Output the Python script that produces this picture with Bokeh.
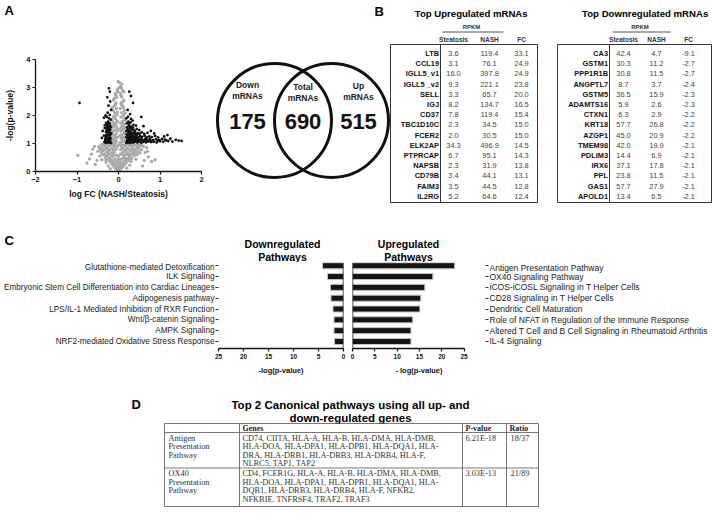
from bokeh.plotting import figure
from bokeh.layouts import column, row
from bokeh.models import Range1d, FixedTicker, Span
from bokeh.core.properties import value
from bokeh.embed import file_html
from bokeh.resources import INLINE

SANS = "Liberation Sans"
SERIF = "Liberation Serif"

# ---------------- data ----------------
# Panel A volcano: (logFC, -log p)
gray_pts = [(0.00, 0.02), (-0.03, 0.05), (0.03, 0.06), (-0.06, 0.10), (0.06, 0.11), (0.00, 0.12), (-0.10, 0.15), (0.10, 0.16),
            (-0.04, 0.18), (0.04, 0.20), (-0.14, 0.22), (0.14, 0.23), (0.00, 0.25), (-0.08, 0.27), (0.08, 0.28), (-0.18, 0.30),
            (0.18, 0.31), (-0.02, 0.33), (0.12, 0.35), (-0.12, 0.36), (-0.22, 0.38), (0.22, 0.38), (0.04, 0.40), (-0.25, 0.20),
            (0.27, 0.22), (0.30, 0.35), (-0.30, 0.33), (0.20, 0.12), (-0.20, 0.10),
            (-0.45, 0.55), (-0.38, 0.60), (-0.32, 0.50), (-0.26, 0.56), (-0.20, 0.48), (-0.14, 0.52), (-0.08, 0.45), (0.08, 0.46),
            (0.14, 0.50), (0.20, 0.47), (0.26, 0.53), (0.32, 0.49), (0.38, 0.57), (0.45, 0.60), (0.52, 0.66),
            (-0.50, 0.72), (-0.42, 0.70), (-0.35, 0.74), (-0.28, 0.68), (-0.22, 0.72), (-0.16, 0.66), (-0.10, 0.70), (0.10, 0.68),
            (0.16, 0.72), (0.22, 0.66), (0.28, 0.73), (0.34, 0.69), (0.40, 0.75), (0.47, 0.71), (0.55, 0.78),
            (-0.48, 0.88), (-0.40, 0.85), (-0.33, 0.90), (-0.27, 0.86), (-0.21, 0.92), (-0.15, 0.84), (-0.09, 0.88), (0.09, 0.86),
            (0.15, 0.90), (0.21, 0.85), (0.27, 0.92), (0.33, 0.87), (0.39, 0.93), (0.46, 0.89), (0.53, 0.94), (0.60, 0.90),
            (-0.36, 0.97), (-0.24, 0.98), (0.24, 0.97), (0.36, 0.98), (0.48, 0.97), (-0.40, 0.42), (0.42, 0.44), (-0.34, 0.62),
            (0.36, 0.63), (-0.05, 0.58), (0.05, 0.62), (-0.05, 0.80), (0.05, 0.78), (0.00, 0.45), (0.00, 0.55),
            (-0.98, 0.58), (-0.70, 0.45), (-0.62, 0.80), (0.72, 0.52), (0.80, 0.36), (0.68, 0.85), (-0.56, 0.25), (0.58, 0.20),
            (-0.65, 0.62), (0.64, 0.68), (-0.76, 0.30), (0.88, 0.42), (-0.52, 0.40), (0.62, 0.40), (0.70, 0.72), (-0.58, 0.90),
            (-0.02, 0.08), (0.02, 0.14), (-0.07, 0.20), (0.07, 0.24), (-0.12, 0.28), (0.11, 0.30), (-0.16, 0.40), (0.16, 0.42),
            (-0.04, 0.36), (0.04, 0.32), (-0.24, 0.45), (0.24, 0.44), (-0.30, 0.42), (0.30, 0.43), (-0.12, 0.60), (0.12, 0.58),
            (-0.18, 0.58), (0.18, 0.60), (-0.24, 0.63), (0.24, 0.61), (-0.30, 0.58), (0.30, 0.60), (-0.40, 0.64), (0.42, 0.66),
            (-0.12, 0.78), (0.12, 0.80), (-0.19, 0.80), (0.19, 0.78), (-0.25, 0.77), (0.25, 0.80), (-0.31, 0.80), (0.31, 0.78),
            (-0.38, 0.78), (0.37, 0.81), (-0.45, 0.80), (0.44, 0.82), (0.50, 0.84), (-0.12, 0.95), (0.12, 0.95), (-0.18, 0.97),
            (0.18, 0.96), (-0.30, 0.95), (0.30, 0.96), (-0.42, 0.95), (0.42, 0.94), (0.55, 0.97), (-0.02, 0.90), (0.02, 0.96),
            (-0.07, 0.98), (0.07, 0.93),
            (-0.15, 1.02), (-0.10, 1.05), (-0.05, 1.08), (-0.13, 1.15), (-0.07, 1.18), (-0.16, 1.25), (-0.03, 1.22), (-0.11, 1.30),
            (-0.06, 1.35), (-0.14, 1.42), (-0.09, 1.48), (-0.03, 1.45), (-0.16, 1.55), (-0.12, 1.60), (-0.05, 1.62), (-0.09, 1.70),
            (-0.14, 1.78), (-0.03, 1.80), (-0.07, 1.88), (-0.12, 1.95), (-0.04, 2.02), (-0.09, 2.10), (-0.13, 2.18), (-0.05, 2.25),
            (-0.10, 2.35), (-0.06, 2.45), (-0.12, 2.55), (-0.04, 2.65), (-0.08, 2.78), (-0.03, 2.92),
            (-0.12, 1.10), (-0.08, 1.26), (-0.15, 1.34), (-0.04, 1.52), (-0.13, 1.66), (-0.06, 1.74), (-0.16, 1.86), (-0.10, 1.98),
            (-0.03, 2.12), (-0.15, 2.28), (-0.07, 2.40), (-0.10, 2.62), (-0.06, 2.72), (-0.02, 2.85), (0.00, 2.98),
            (0.04, 1.03), (0.09, 1.06), (0.15, 1.09), (0.06, 1.16), (0.12, 1.20), (0.17, 1.27), (0.03, 1.28), (0.09, 1.33),
            (0.14, 1.40), (0.05, 1.44), (0.11, 1.50), (0.16, 1.57), (0.07, 1.60), (0.13, 1.68), (0.04, 1.74), (0.10, 1.80),
            (0.15, 1.88), (0.06, 1.94), (0.12, 2.00), (0.08, 2.10), (0.14, 2.18), (0.04, 2.25), (0.10, 2.34), (0.06, 2.45),
            (0.13, 2.55), (0.08, 2.66), (0.04, 2.80), (0.10, 2.90), (0.05, 3.05), (0.02, 3.18), (0.08, 3.12), (-0.01, 3.22),
            (0.13, 1.12), (0.07, 1.24), (0.16, 1.36), (0.03, 1.52), (0.12, 1.62), (0.08, 1.72), (0.17, 1.82), (0.09, 1.96),
            (0.16, 2.08), (0.12, 2.28), (0.07, 2.38), (0.11, 2.50), (0.06, 2.72), (0.13, 2.84), (0.07, 2.98)]
sig_pts = [(-0.18, 1.02), (-0.22, 1.03), (-0.26, 1.04), (-0.30, 1.02), (-0.34, 1.05), (-0.20, 1.10), (-0.24, 1.12), (-0.28, 1.10),
           (-0.32, 1.14), (-0.19, 1.18), (-0.23, 1.20), (-0.27, 1.22), (-0.31, 1.19), (-0.21, 1.28), (-0.25, 1.30), (-0.29, 1.32),
           (-0.35, 1.28), (-0.18, 1.36), (-0.22, 1.40), (-0.26, 1.38), (-0.30, 1.42), (-0.20, 1.48), (-0.24, 1.52), (-0.28, 1.50),
           (-0.33, 1.55), (-0.19, 1.58), (-0.23, 1.62), (-0.27, 1.66), (-0.21, 1.72), (-0.25, 1.78), (-0.30, 1.74), (-0.19, 1.85),
           (-0.23, 1.90), (-0.28, 1.95), (-0.35, 1.92), (-0.21, 2.02), (-0.26, 2.10), (-0.31, 2.00), (-0.18, 2.20), (-0.24, 2.35),
           (-0.20, 2.50), (-0.27, 2.65), (-0.21, 2.85), (-0.23, 2.97), (-0.94, 2.45), (-0.38, 1.45), (-0.40, 1.20),
           (-0.20, 1.05), (-0.24, 1.07), (-0.28, 1.06), (-0.32, 1.08), (-0.22, 1.15), (-0.26, 1.17), (-0.30, 1.25), (-0.20, 1.33),
           (-0.24, 1.45), (-0.28, 1.58), (-0.22, 1.55), (-0.26, 1.70), (-0.20, 1.65), (-0.33, 1.65),
           (0.19, 1.02), (0.23, 1.04), (0.27, 1.02), (0.31, 1.05), (0.35, 1.03), (0.40, 1.06), (0.45, 1.04), (0.50, 1.07),
           (0.55, 1.03), (0.60, 1.06), (0.66, 1.04), (0.72, 1.07), (0.78, 1.05), (0.85, 1.06), (0.92, 1.04), (1.00, 1.08),
           (1.08, 1.06), (1.20, 1.09), (1.30, 1.07), (1.45, 1.10), (1.52, 1.09),
           (0.21, 1.12), (0.25, 1.15), (0.29, 1.13), (0.33, 1.16), (0.38, 1.14), (0.43, 1.17), (0.48, 1.13), (0.53, 1.16),
           (0.58, 1.12), (0.64, 1.15), (0.70, 1.13), (0.76, 1.16), (0.83, 1.12), (0.90, 1.15), (0.98, 1.13), (1.05, 1.16),
           (1.12, 1.14), (1.25, 1.17), (1.38, 1.13),
           (0.19, 1.22), (0.24, 1.25), (0.28, 1.23), (0.32, 1.27), (0.37, 1.24), (0.42, 1.28), (0.47, 1.22), (0.52, 1.26),
           (0.57, 1.24), (0.63, 1.28), (0.68, 1.22), (0.74, 1.25), (0.80, 1.23), (0.88, 1.27), (0.95, 1.22), (1.10, 1.25),
           (1.18, 1.30), (0.20, 1.33), (0.25, 1.36), (0.30, 1.34), (0.35, 1.38), (0.40, 1.33), (0.46, 1.37), (0.51, 1.35),
           (0.56, 1.40), (0.62, 1.34), (0.70, 1.38), (0.78, 1.45), (0.86, 1.36), (0.19, 1.45), (0.23, 1.48), (0.28, 1.46),
           (0.33, 1.50), (0.38, 1.47), (0.44, 1.52), (0.50, 1.48), (0.60, 1.62), (0.21, 1.58), (0.26, 1.62), (0.31, 1.60),
           (0.36, 1.66), (0.42, 1.64), (0.20, 1.72), (0.24, 1.78), (0.29, 1.75), (0.34, 1.82), (0.19, 1.90), (0.23, 1.96),
           (0.28, 2.05), (0.55, 1.95), (0.35, 2.45), (0.30, 2.70), (0.26, 2.85), (0.22, 2.20),
           (0.21, 1.07), (0.25, 1.09), (0.29, 1.08), (0.33, 1.10), (0.37, 1.09), (0.42, 1.11), (0.47, 1.09), (0.52, 1.11),
           (0.62, 1.10), (0.68, 1.09), (0.75, 1.10), (0.82, 1.09), (0.95, 1.10), (1.15, 1.11), (0.22, 1.18), (0.27, 1.19),
           (0.31, 1.21), (0.36, 1.19), (0.41, 1.21), (0.46, 1.19), (0.55, 1.20), (0.66, 1.19), (0.22, 1.29), (0.27, 1.30),
           (0.35, 1.29), (0.45, 1.31), (0.24, 1.41), (0.30, 1.40), (0.40, 1.42), (0.22, 1.52), (0.28, 1.55), (0.35, 1.56),
           (0.25, 1.68), (0.30, 1.88)]
gray_x = [p[0] for p in gray_pts]
gray_y = [p[1] for p in gray_pts]
sig_x = [p[0] for p in sig_pts]
sig_y = [p[1] for p in sig_pts]
volc_xticks = [-2, -1, 0, 1, 2]
volc_yticks = [0, 1, 2, 3, 4]

# Venn counts
venn_names = [["Down", "mRNAs"], ["Total", "mRNAs"], ["Up", "mRNAs"]]
venn_counts = [175, 690, 515]

# Panel B tables
up_genes = ["LTB", "CCL19", "IGLL5_v1", "IGLL5 _v2", "SELL", "IGJ", "CD37", "TBC1D10C", "FCER2", "ELK2AP", "PTPRCAP", "NAPSB", "CD79B", "FAIM3", "IL2RG"]
up_steatosis = [3.6, 3.1, 16.0, 9.3, 3.3, 8.2, 7.8, 2.3, 2.0, 34.3, 6.7, 2.3, 3.4, 3.5, 5.2]
up_nash = [119.4, 76.1, 397.8, 221.1, 65.7, 134.7, 119.4, 34.5, 30.5, 496.9, 95.1, 31.9, 44.1, 44.5, 64.6]
up_fc = [33.1, 24.9, 24.9, 23.8, 20.0, 16.5, 15.4, 15.0, 15.0, 14.5, 14.3, 13.8, 13.1, 12.8, 12.4]
down_genes = ["CA3", "GSTM1", "PPP1R1B", "ANGPTL7", "GSTM5", "ADAMTS16", "CTXN1", "KRT18", "AZGP1", "TMEM98", "PDLIM3", "IRX6", "PPL", "GAS1", "APOLD1"]
down_steatosis = [42.4, 30.3, 30.8, 8.7, 36.5, 5.9, 6.3, 57.7, 45.0, 42.0, 14.4, 37.1, 23.8, 57.7, 13.4]
down_nash = [4.7, 11.2, 11.5, 3.7, 15.9, 2.6, 2.9, 26.8, 20.9, 19.9, 6.9, 17.8, 11.5, 27.9, 6.5]
down_fc = [-9.1, -2.7, -2.7, -2.4, -2.3, -2.3, -2.2, -2.2, -2.2, -2.1, -2.1, -2.1, -2.1, -2.1, -2.1]
table_headers = ["Steatosis", "NASH", "FC"]

# Panel C pathways
down_paths = ["Glutathione-mediated Detoxification", "ILK Signaling", "Embryonic Stem Cell Differentiation into Cardiac Lineages",
              "Adipogenesis pathway", "LPS/IL-1 Mediated Inhibition of RXR Function", "Wnt/\u03b2-catenin Signaling",
              "AMPK Signaling", "NRF2-mediated Oxidative Stress Response"]
down_vals = [4.2, 3.2, 2.6, 2.5, 2.1, 1.9, 1.9, 1.8]
up_paths = ["Antigen Presentation Pathway", "OX40 Signaling Pathway", "iCOS-iCOSL Signaling in T Helper Cells",
            "CD28 Signaling in T Helper Cells", "Dendritic Cell Maturation", "Role of NFAT in Regulation of the Immune Response",
            "Altered T Cell and B Cell Signaling in Rheumatoid Arthritis", "IL-4 Signaling"]
up_vals = [22.9, 18.0, 16.2, 15.3, 15.1, 13.5, 13.1, 13.1]
path_xticks = [0, 5, 10, 15, 20, 25]

# Panel D table
d_headers = ["Genes", "P-value", "Ratio"]
d_pathways = [["Antigen", "Presentation", "Pathway"], ["OX40", "Presentation", "Pathway"]]
d_genes = [["CD74, CIITA, HLA-A, HLA-B, HLA-DMA, HLA-DMB,", "HLA-DOA, HLA-DPA1, HLA-DPB1, HLA-DQA1, HLA-",
            "DRA, HLA-DRB1, HLA-DRB3, HLA-DRB4, HLA-F,", "NLRC5, TAP1, TAP2"],
           ["CD4, FCER1G, HLA-A, HLA-B, HLA-DMA, HLA-DMB,", "HLA-DOA, HLA-DPA1, HLA-DPB1, HLA-DQA1, HLA-",
            "DQB1, HLA-DRB3, HLA-DRB4, HLA-F, NFKB2,", "NFKBIE. TNFRSF4, TRAF2, TRAF3"]]
d_pvalues = ["6.21E-18", "3.03E-13"]
d_ratios = ["18/37", "21/89"]


# ---------------- helpers ----------------
def canvas(x0, y0, w, h):
    p = figure(width=w, height=h, x_range=Range1d(x0, x0 + w), y_range=Range1d(y0 + h, y0),
               x_axis_type=None, y_axis_type=None, output_backend="svg", toolbar_location=None,
               min_border=0)
    p.outline_line_color = None
    return p


def txt(p, xs, ys, texts, size, bold=False, align="center", color="#000000", font=SANS):
    p.text(x=xs, y=ys, text=texts, text_font=value(font), text_font_size=size,
           text_font_style="bold" if bold else "normal", text_align=align,
           text_baseline="middle", text_color=color)


def style_axis(ax, label_size="7px"):
    ax.axis_line_width = 1.3
    ax.axis_line_color = "#111111"
    ax.major_tick_line_color = "#111111"
    ax.major_tick_line_width = 1.2
    ax.major_tick_in = 0
    ax.major_tick_out = 3
    ax.minor_tick_line_color = None
    ax.major_label_text_font = SANS
    ax.major_label_text_font_style = "bold"
    ax.major_label_text_font_size = label_size
    ax.major_label_text_color = "#111111"
    ax.major_label_standoff = 2
    ax.axis_label_text_font = SANS
    ax.axis_label_text_font_style = "bold"
    ax.axis_label_text_color = "#111111"


# ---------------- Panel A ----------------
cA = canvas(0, 0, 210, 20)
txt(cA, [4], [10], ["A"], "13px", bold=True, align="left")

volc = figure(width=210, height=202, x_range=Range1d(-2, 2), y_range=Range1d(0, 4),
              output_backend="svg", toolbar_location=None,
              min_border_left=35, min_border_right=9, min_border_top=39, min_border_bottom=51)
volc.grid.visible = False
volc.outline_line_color = None
volc.scatter(gray_x, gray_y, size=3.3, color="#a9a9a9", line_color=None)
volc.scatter(sig_x, sig_y, size=2.8, color="#111111", line_color=None)
volc.xaxis.ticker = FixedTicker(ticks=volc_xticks)
volc.yaxis.ticker = FixedTicker(ticks=volc_yticks)
for ax in (volc.xaxis[0], volc.yaxis[0]):
    style_axis(ax, "7.5px")
    ax.axis_label_text_font_size = "8.5px"
volc.xaxis.axis_label = "log FC (NASH/Steatosis)"
volc.yaxis.axis_label = "-log(p-value)"
volc.xaxis.axis_label_standoff = 4
volc.yaxis.axis_label_standoff = 8

# ---------------- Panel B (Venn + tables) ----------------
cB = canvas(210, 0, 504, 222)
venn_cx = [274, 331]
cB.circle(x=venn_cx, y=[120, 120], radius=57, fill_color=None, line_color="#111111", line_width=3)
venn_tx = [247, 302.5, 358]
txt(cB, venn_tx, [84, 86, 85], [n[0] for n in venn_names], "8.5px", bold=True, color="#222222")
txt(cB, venn_tx, [95.5, 97, 96], [n[1] for n in venn_names], "8.5px", bold=True, color="#222222")
txt(cB, venn_tx, [121, 121, 121], [str(c) for c in venn_counts], "22px", bold=True, color="#111111")

txt(cB, [374], [11], ["B"], "13px", bold=True, align="left")


def gene_table(p, title, tcx, left, sep, right, cols, genes, s, n, fc):
    txt(p, [tcx], [12.5], [title], "9.6px", bold=True)
    rp = (cols[0] + cols[1]) / 2
    txt(p, [rp], [26.5], ["RPKM"], "6px", bold=True, color="#333333")
    p.segment(x0=[cols[0] - 11], y0=[31.5], x1=[cols[1] + 14], y1=[31.5], line_color="#555555", line_width=1)
    txt(p, cols, [38.5] * 3, table_headers, "6.5px", bold=True, color="#333333")
    top, bot = 44, 202
    p.segment(x0=[left, left, right, left, sep], y0=[top, bot, top, top, top],
              x1=[right, right, right, left, sep], y1=[top, bot, bot, bot, bot],
              line_color="#333333", line_width=1)
    ys = [53 + 10.2 * i for i in range(len(genes))]
    txt(p, [sep - 1.5] * len(genes), ys, genes, "7.4px", bold=True, align="right", color="#111111")
    txt(p, [cols[0]] * len(genes), ys, ["%.1f" % v for v in s], "7.4px", color="#444444")
    txt(p, [cols[1]] * len(genes), ys, ["%.1f" % v for v in n], "7.4px", color="#444444")
    txt(p, [cols[2]] * len(genes), ys, ["%.1f" % v for v in fc], "7.4px", color="#444444")


gene_table(cB, "Top  Upregulated mRNAs", 472, 390, 440, 537, [453, 489, 521],
           up_genes, up_steatosis, up_nash, up_fc)
gene_table(cB, "Top  Downregulated mRNAs", 646, 557, 609, 711, [623, 656, 688],
           down_genes, down_steatosis, down_nash, down_fc)

# ---------------- Panel C ----------------
cC = canvas(0, 222, 714, 40)
txt(cC, [4], [240], ["C"], "13px", bold=True, align="left")
txt(cC, [282, 282], [243, 256], ["Downregulated", "Pathways"], "10.5px", bold=True)
txt(cC, [408, 408], [243, 256], ["Upregulated", "Pathways"], "10.5px", bold=True)

n_paths = len(down_paths)
ypos = [n_paths - 1 - i for i in range(n_paths)]


def path_fig(width, xr, vals, names, lb, rb, side, xlabel, lab_size):
    p = figure(width=width, height=118, x_range=xr, y_range=Range1d(-0.65, 7.3),
               output_backend="svg", toolbar_location=None, y_axis_location=side,
               min_border_left=lb, min_border_right=rb, min_border_top=0, min_border_bottom=32)
    p.grid.visible = False
    p.outline_line_color = None
    p.hbar(y=ypos, left=0, right=vals, height=0.56, fill_color="#151515", line_color="#c4c4c4", line_width=1)
    p.add_layout(Span(location=0, dimension="height", line_color="#222222", line_width=1.5))
    xa = p.xaxis[0]
    style_axis(xa, "6.5px")
    xa.ticker = FixedTicker(ticks=path_xticks)
    xa.axis_label = xlabel
    xa.axis_label_text_font_size = "7.5px"
    xa.axis_label_standoff = 4
    ya = p.yaxis[0]
    ya.ticker = FixedTicker(ticks=ypos)
    ya.major_label_overrides = {y: nm for y, nm in zip(ypos, names)}
    ya.axis_line_color = None
    ya.major_tick_in = 0
    ya.major_tick_out = 3
    ya.major_tick_line_color = "#333333"
    ya.minor_tick_line_color = None
    ya.major_label_text_font = SANS
    ya.major_label_text_font_size = lab_size
    ya.major_label_text_color = "#222222"
    ya.major_label_standoff = 1
    return p


pdown = path_fig(349, Range1d(25, 0), down_vals, down_paths, 215, 6, "left", "-log(p-value)", "8.2px")
pup = path_fig(365, Range1d(0, 29.8), up_vals, up_paths, 3, 229, "right", "- log(p-value)", "8.5px")
pup.xaxis[0].bounds = (0, 25)

# ---------------- Panel D ----------------
cD = canvas(0, 380, 714, 134)
txt(cD, [131], [404], ["D"], "13px", bold=True, align="left")
txt(cD, [350, 350], [404, 417.5], ["Top 2 Canonical pathways using all up- and", "down-regulated genes"], "11.5px", bold=True)
t_left, c_gen, c_p, c_r, t_right = 164, 239, 462, 506, 538
t_top, h_bot, r_sep, t_bot = 423, 432, 467.5, 506
cD.segment(x0=[t_left, t_left, t_left, t_left, t_left, c_gen, c_p, c_r, t_right],
           y0=[t_top, h_bot, r_sep, t_bot, t_top, t_top, t_top, t_top, t_top],
           x1=[t_right, t_right, t_right, t_right, t_left, c_gen, c_p, c_r, t_right],
           y1=[t_top, h_bot, r_sep, t_bot, t_bot, t_bot, t_bot, t_bot, t_bot],
           line_color="#555555", line_width=0.8)
txt(cD, [c_gen + 3, c_p + 3, c_r + 3], [427.5] * 3, d_headers, "8px", bold=True, align="left", font=SERIF, color="#222222")
row_tops = [437.5, 473]
lh = 8.6
for k in range(2):
    y0 = row_tops[k]
    txt(cD, [t_left + 4] * 3, [y0 + lh * j for j in range(3)], d_pathways[k], "8.3px", align="left", font=SERIF, color="#333333")
    txt(cD, [c_gen + 3] * 4, [y0 + lh * j for j in range(4)], d_genes[k], "8.3px", align="left", font=SERIF, color="#333333")
    txt(cD, [c_p + 3], [y0], [d_pvalues[k]], "8.3px", align="left", font=SERIF, color="#333333")
    txt(cD, [c_r + 4], [y0], [d_ratios[k]], "8.3px", align="left", font=SERIF, color="#333333")

layout = column(row(column(row(cA), volc), cB), cC, row(pdown, pup), cD)

open("out.html", "w").write(file_html(layout, INLINE))
